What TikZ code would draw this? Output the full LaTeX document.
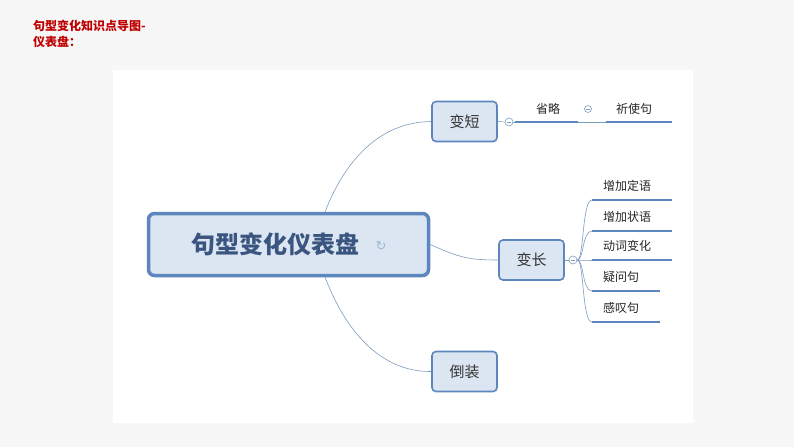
\documentclass[tikz,border=0pt]{standalone}
\usepackage{fontspec}
\newfontfamily\cjk{Noto Sans CJK SC}
\newfontfamily\dejavu{DejaVu Sans}
\definecolor{bd}{HTML}{5B86BE}
\definecolor{fl}{HTML}{DCE6F2}
\definecolor{ln}{HTML}{7F9CC0}
\definecolor{tx}{HTML}{3A5680}
\tikzset{
 topic/.style={draw=bd,fill=fl,rounded corners=4pt,line width=1.6pt,minimum width=65pt,minimum height=40pt,font=\cjk\fontsize{15}{15}\selectfont,text=black!80},
 leaf/.style={font=\cjk\fontsize{12}{12}\selectfont,text=black!85,anchor=west,inner sep=0pt},
 ul/.style={draw=bd,line width=2pt},
 thin/.style={draw=ln,line width=0.6pt},
 knob/.style={circle,draw=ln,fill=white,inner sep=0pt,minimum size=8pt,line width=0.6pt,
   path picture={\draw[ln,line width=0.5pt] ([xshift=-2pt]path picture bounding box.center) -- ([xshift=2pt]path picture bounding box.center);}},
}
\begin{document}
\begin{tikzpicture}[x=1pt,y=-1pt]
\useasboundingbox (0,0) rectangle (794,447);
\fill[black!3] (0,0) rectangle (794,447);
\fill[white] (113,70) rectangle (693,423);
\node[red!75!black,anchor=north west,align=left,font=\cjk\bfseries\fontsize{12}{16}\selectfont,inner sep=0pt] (title) at (33,20) {句型变化知识点导图-\\仪表盘：};
\node[draw=bd,fill=fl,rounded corners=6pt,line width=3.5pt,minimum width=280pt,minimum height=62pt] (c) at (288.5,244.5) {};
\node[font=\cjk\bfseries\fontsize{24}{24}\selectfont,text=tx] (ct) at (275,244.5) {句型变化仪表盘};
\node[text=bd!60,font=\dejavu\fontsize{13}{13}\selectfont] (ic) at (381,246) {↻};
\node[topic] (a) at (464.5,121.5) {变短};
\node[topic] (b) at (531.5,260) {变长};
\node[topic] (d) at (464.5,371.5) {倒装};
\coordinate (ct1) at (325,212);
\coordinate (cb1) at (325,277);
\draw[thin] (ct1) .. controls (345,160) and (380,122) .. (a.west);
\draw[thin] (c.east) .. controls (460,258) and (470,260) .. (b.west);
\draw[thin] (cb1) .. controls (345,330) and (380,372) .. (d.west);
\node[knob] (k1) at (509,122) {};
\draw[thin] (a.east) -- (k1.west);
\coordinate (s1) at (515,122); \coordinate (s2) at (578,122);
\coordinate (s3) at (606,122); \coordinate (s4) at (672,122);
\draw[thin] (k1.east) -- (s1);
\draw[ul] (s1) -- (s2);
\draw[thin] (s2) -- (s3);
\draw[ul] (s3) -- (s4);
\node[leaf] (l1) at (536,109) {省略};
\node[knob,minimum size=7pt] (k2) at (588,109) {};
\node[leaf] (l2) at (616,109) {祈使句};
\node[knob] (k3) at (573,260) {};
\draw[thin] (b.east) -- (k3.west);
\foreach \y/\e/\t [count=\i] in {200/672/增加定语,231/672/增加状语,260/672/动词变化,291/660/疑问句,322/660/感叹句}{
  \coordinate (p\i) at (592,\y);
  \coordinate (q\i) at (\e,\y);
  \draw[thin] (k3.east) .. controls (584,260) and (582,\y) .. (p\i);
  \draw[ul] (p\i) -- (q\i);
  \node[leaf] (t\i) at (603,\y-14) {\t};
}
\end{tikzpicture}
\end{document}
